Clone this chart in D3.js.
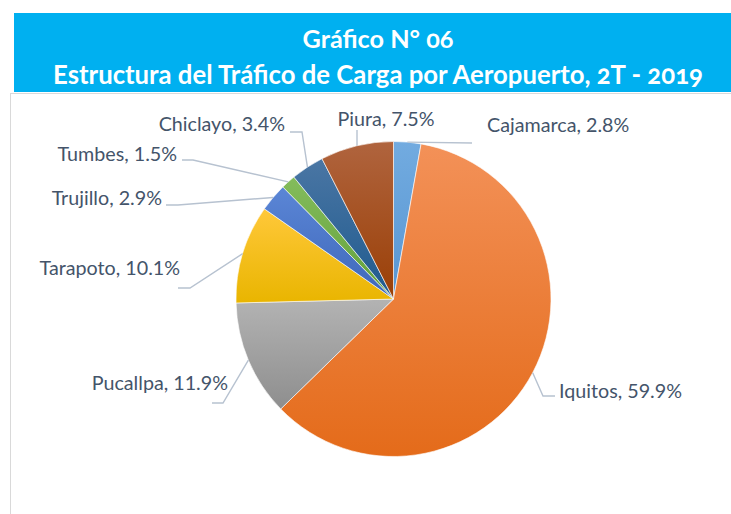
<!DOCTYPE html>
<html>
<head>
<meta charset="utf-8">
<script src="https://cdn.jsdelivr.net/npm/d3@7"></script>
<style>
  html, body { margin: 0; padding: 0; background: #fff; }
  svg { display: block; }
  .title text { font-variant-numeric: oldstyle-nums; }
</style>
</head>
<body>
<svg id="chart" width="731" height="514"></svg>
<script>
// airport cargo share, 2T-2019 (clockwise from 12 o'clock)
const airports = ['Cajamarca', 'Iquitos', 'Pucallpa', 'Tarapoto', 'Trujillo', 'Tumbes', 'Chiclayo', 'Piura'];
const shares   = [2.8, 59.9, 11.9, 10.1, 2.9, 1.5, 3.4, 7.5];
const titleLines = ['Gráfico N° 06', 'Estructura del Tráfico de Carga por Aeropuerto, 2T - 2019'];

// slice fills: [top, bottom] of the vertical gradient
const fills = {
  Cajamarca: ['#72ABE0', '#5896D2'],
  Iquitos:   ['#F39158', '#E46B1A'],
  Pucallpa:  ['#B3B3B3', '#8E8E8E'],
  Tarapoto:  ['#FFC83A', '#E9B500'],
  Trujillo:  ['#5B86D6', '#3E67BA'],
  Tumbes:    ['#84BC5C', '#62A03A'],
  Chiclayo:  ['#4A76A4', '#1F5A8E'],
  Piura:     ['#B0643E', '#9A3F06'],
};

// label placement (text anchor point + leader elbow), page pixels
const labelLayout = {
  Cajamarca: { x: 487, y: 125, anchor: 'start', path: [[472, 143]] },
  Iquitos:   { x: 559, y: 391, anchor: 'start', path: [[555, 396], [543, 396]] },
  Pucallpa:  { x: 228, y: 383, anchor: 'end',   path: [[212, 403], [223, 403]] },
  Tarapoto:  { x: 180, y: 268, anchor: 'end',   path: [[178, 288], [190, 288]] },
  Trujillo:  { x: 162, y: 198, anchor: 'end',   path: [[166, 205], [178, 205]] },
  Tumbes:    { x: 177, y: 154, anchor: 'end',   path: [[182, 160], [193, 160]] },
  Chiclayo:  { x: 285, y: 124, anchor: 'end',   path: [[290, 132], [302, 132]] },
  Piura:     { x: 386, y: 119, anchor: 'middle', path: [[357, 130]], edgeX: 357 },
};

const svg = d3.select('#chart');
const W = 731, H = 514;
const cx = 393.5, cy = 299, R = 157.5;
const labelFont = 'Lato, "Open Sans", sans-serif';
const textColor = '#44546A';
const leaderColor = '#B7C2D0';

// title banner
svg.append('rect')
  .attr('x', 14).attr('y', 13)
  .attr('width', W - 14).attr('height', 79)
  .attr('fill', '#00B0F0');

// chart frame (only top/left visible in the crop)
svg.append('rect')
  .attr('x', 10.5).attr('y', 93.5)
  .attr('width', W + 20).attr('height', H)
  .attr('fill', 'none')
  .attr('stroke', '#D9D9D9')
  .attr('stroke-width', 1);

const title = svg.append('g')
  .attr('class', 'title')
  .attr('font-family', 'Lato, "Open Sans", sans-serif')
  .attr('font-weight', 700)
  .attr('fill', '#fff')
  .attr('text-anchor', 'middle');

const t1 = title.append('text')
  .attr('x', 378).attr('y', 48)
  .attr('font-size', 22)
  .text(titleLines[0]);

const t2 = title.append('text')
  .attr('x', 378).attr('y', 84)
  .attr('font-size', 22)
  .text(titleLines[1]);
// match widths seen in the reference
fitWidth(t1, 151);
fitWidth(t2, 650);

// pie
const data = airports.map((name, i) => ({ name, value: shares[i] }));
const pie = d3.pie().sort(null).value(d => d.value);
const arcs = pie(data);
const arc = d3.arc().innerRadius(0).outerRadius(R);

const defs = svg.append('defs');
arcs.forEach(a => {
  const g = defs.append('linearGradient')
    .attr('id', 'grad-' + a.data.name)
    .attr('x1', 0).attr('y1', 0).attr('x2', 0).attr('y2', 1);
  g.append('stop').attr('offset', '0%').attr('stop-color', fills[a.data.name][0]);
  g.append('stop').attr('offset', '100%').attr('stop-color', fills[a.data.name][1]);
});

const pieG = svg.append('g').attr('transform', `translate(${cx},${cy})`);
pieG.selectAll('path.slice')
  .data(arcs)
  .join('path')
  .attr('class', 'slice')
  .attr('d', arc)
  .attr('fill', d => `url(#grad-${d.data.name})`)
  .attr('stroke', '#fff')
  .attr('stroke-width', 0.6);

// point on the rim for a leader line
function rimPoint(a) {
  const lay = labelLayout[a.data.name];
  if (lay.edgeX != null) {
    const dx = lay.edgeX - cx;
    return [lay.edgeX, cy - Math.sqrt(R * R - dx * dx)];
  }
  const mid = (a.startAngle + a.endAngle) / 2;
  return [cx + R * Math.sin(mid), cy - R * Math.cos(mid)];
}

const line = d3.line();
svg.append('g').selectAll('path.leader')
  .data(arcs)
  .join('path')
  .attr('class', 'leader')
  .attr('d', a => line(labelLayout[a.data.name].path.concat([rimPoint(a)])))
  .attr('fill', 'none')
  .attr('stroke', leaderColor)
  .attr('stroke-width', 1.4);

const fmt = d3.format('.1f');
const labels = svg.append('g').selectAll('text.lbl')
  .data(arcs)
  .join('text')
  .attr('class', 'lbl')
  .attr('x', a => labelLayout[a.data.name].x)
  .attr('y', a => labelLayout[a.data.name].y)
  .attr('dy', '0.35em')
  .attr('text-anchor', a => labelLayout[a.data.name].anchor)
  .attr('font-family', labelFont)
  .attr('font-size', 16)
  .attr('fill', textColor)
  .text(a => `${a.data.name}, ${fmt(a.data.value)}%`);

// size label font so "Iquitos, 59.9%" is ~123px like the reference
const iq = labels.filter(a => a.data.name === 'Iquitos');
const k = 123 / iq.node().getComputedTextLength();
labels.attr('font-size', 16 * k);

function fitWidth(sel, target) {
  const fs = +sel.attr('font-size');
  const w = sel.node().getComputedTextLength();
  sel.attr('font-size', fs * target / w);
}
</script>
</body>
</html>
